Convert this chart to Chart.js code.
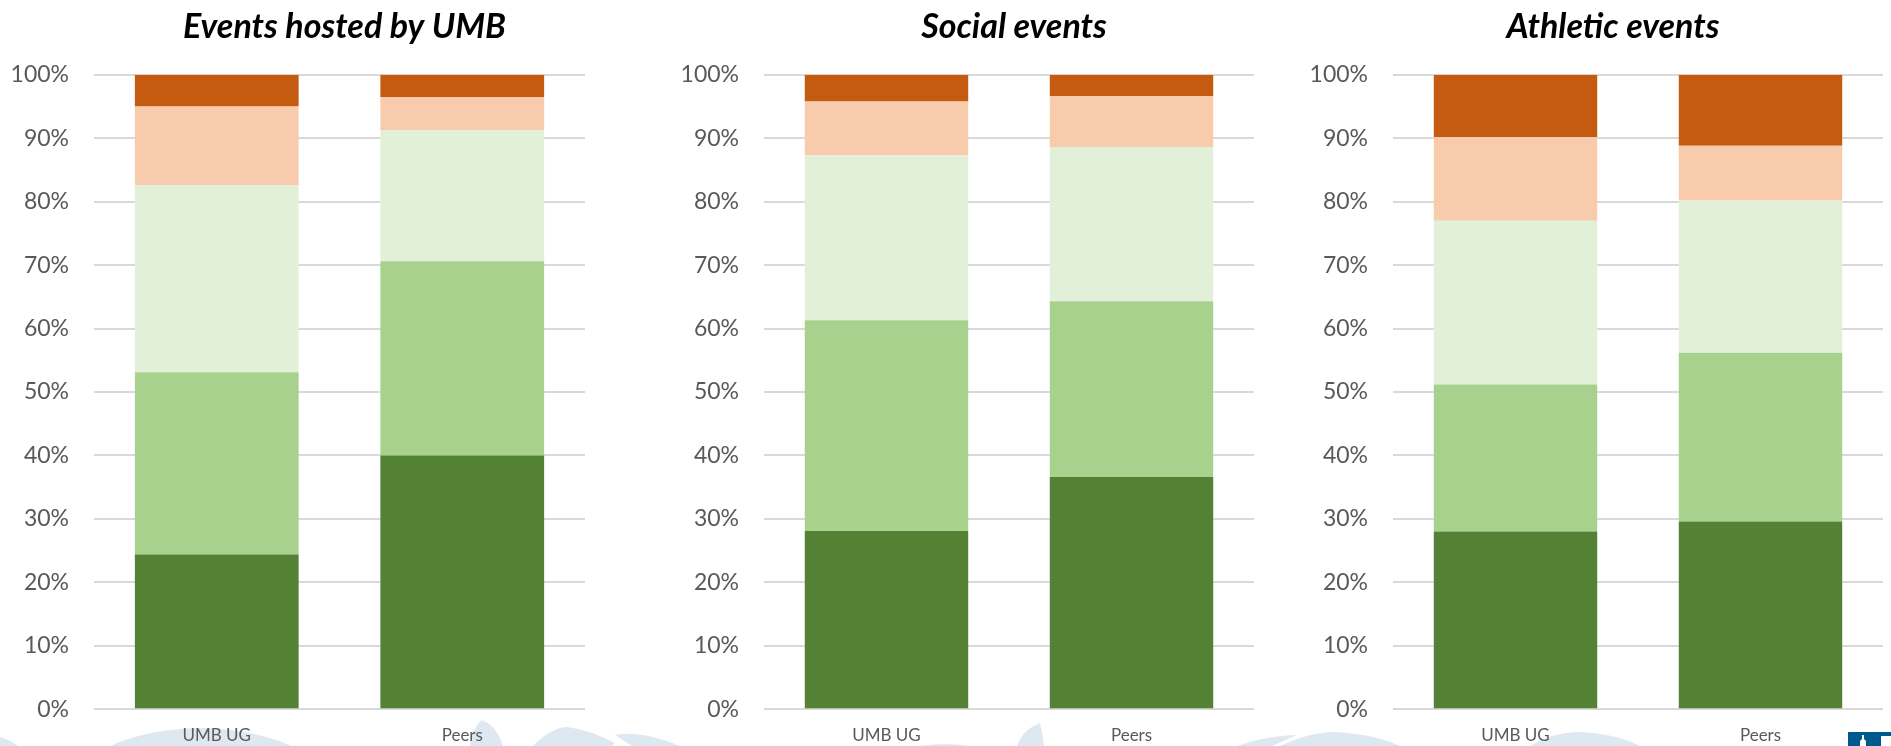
<!DOCTYPE html>
<html>
<head>
<meta charset="utf-8">
<title>Events</title>
<script src="https://cdn.jsdelivr.net/npm/chart.js@4"></script>
<style>
  html, body { margin: 0; padding: 0; background: #fff; overflow: hidden; }
  #page { position: relative; width: 1891px; height: 746px; overflow: hidden; }
  #page canvas { position: absolute; top: 0; }
  #backdrop { position: absolute; left: 0; top: 0; }
</style>
</head>
<body>
<div id="page">
  <svg id="backdrop" width="1891" height="746">
    <g fill="#dfe8f0">
      <path d="M0 737 Q10 740 18 746 L0 746 Z"/>
      <path d="M110 746 Q150 728 205 728 Q255 730 292 746 Z"/>
      <path d="M470 746 Q472 728 482 720 Q497 726 503 746 Z"/>
      <path d="M533 746 Q550 728 567 727 Q590 730 615 743 L612 746 Z"/>
      <path d="M615 735 Q640 730 680 746 L632 746 Z"/>
      <path d="M920 746 Q945 742 970 746 Z"/>
      <path d="M1017 746 Q1022 730 1040 723 Q1043 735 1044 746 Z"/>
      <path d="M1237 746 Q1265 736 1297 735 L1272 746 Z"/>
      <path d="M1280 746 Q1310 732 1335 732 Q1375 734 1400 746 Z"/>
      <path d="M1530 746 Q1550 733 1577 732 Q1615 733 1640 746 Z"/>
    </g>
    <rect x="1848" y="732" width="43" height="14" fill="#00598c"/>
    <path d="M1860 746 L1860 741 L1862 739 L1862 735 L1864 735 L1864 739 L1866 741 L1866 746 Z" fill="#fff"/>
    <rect x="1881" y="736" width="10" height="10" fill="#fff"/>
  </svg>
  <canvas id="hosted" style="left:0"></canvas>
  <canvas id="social" style="left:600px"></canvas>
  <canvas id="athletic" style="left:1290px"></canvas>
</div>
<script>
const categories = ['UMB UG', 'Peers'];
const shadeColors = ['#548235', '#A9D18E', '#E2F0D9', '#F8CBAD', '#C55A11'];

// segment sizes in percent, bottom to top, [UMB UG, Peers]
const hostedBand1 = [24.4, 40.0];
const hostedBand2 = [28.7, 30.6];
const hostedBand3 = [29.5, 20.7];
const hostedBand4 = [12.4, 5.2];
const hostedBand5 = [5.0, 3.5];

const socialBand1 = [28.1, 36.6];
const socialBand2 = [33.2, 27.7];
const socialBand3 = [26.0, 24.3];
const socialBand4 = [8.5, 8.0];
const socialBand5 = [4.2, 3.4];

const athleticBand1 = [28.0, 29.6];
const athleticBand2 = [23.2, 26.6];
const athleticBand3 = [25.8, 24.0];
const athleticBand4 = [13.2, 8.6];
const athleticBand5 = [9.8, 11.2];

// title sits a little off the plot centre in the original
const shiftTitle = {
    id: 'shiftTitle',
    afterLayout: function(chart, args, opts) {
        chart.titleBlock.left += opts.dx;
        chart.titleBlock.right += opts.dx;
    }
};

function drawPanel(id, title, bands, geom) {
    const canvas = document.getElementById(id);
    // two px taller than the page, the plot floor has to land on y=708
    canvas.width = geom.width;
    canvas.height = 748;
    canvas.style.width = geom.width + 'px';
    canvas.style.height = '748px';

    new Chart(canvas.getContext('2d'), {
        type: 'bar',
        plugins: [shiftTitle],
        data: {
            labels: categories,
            datasets: bands.map((band, i) => ({
                data: band,
                backgroundColor: shadeColors[i],
                barPercentage: 0.667,
                categoryPercentage: 1
            }))
        },
        options: {
            responsive: false,
            animation: false,
            layout: { padding: { left: 0, right: geom.right, top: 0, bottom: 0 } },
            plugins: {
                legend: { display: false },
                tooltip: { enabled: false },
                shiftTitle: { dx: geom.titleDx },
                title: {
                    display: true,
                    text: title,
                    fullSize: false,
                    color: '#000',
                    font: { family: 'Lato', size: 34, weight: 'bold', style: 'italic', lineHeight: 1.2 },
                    padding: { top: 7, bottom: 27 }
                }
            },
            scales: {
                x: {
                    stacked: true,
                    grid: { display: false },
                    border: { display: false },
                    ticks: { color: '#595959', font: { family: 'Lato', size: 17 }, padding: 8, maxRotation: 0 },
                    afterFit: function(scale) { scale.height = 34; }
                },
                y: {
                    stacked: true,
                    min: 0,
                    max: 100,
                    grid: { color: '#d9d9d9', lineWidth: 2, drawTicks: false },
                    border: { display: false },
                    ticks: {
                        stepSize: 10,
                        color: '#595959',
                        font: { family: 'Lato', size: 23 },
                        padding: 25,
                        callback: function(value) { return value + '%'; }
                    },
                    afterFit: function(scale) { scale.width = geom.axis; }
                }
            }
        }
    });
}

drawPanel('hosted', 'Events hosted by UMB',
    [hostedBand1, hostedBand2, hostedBand3, hostedBand4, hostedBand5],
    { width: 600, right: 15, axis: 94, titleDx: 5 });
drawPanel('social', 'Social events',
    [socialBand1, socialBand2, socialBand3, socialBand4, socialBand5],
    { width: 670, right: 16, axis: 164, titleDx: 5 });
drawPanel('athletic', 'Athletic events',
    [athleticBand1, athleticBand2, athleticBand3, athleticBand4, athleticBand5],
    { width: 601, right: 8, axis: 103, titleDx: -25 });
</script>
</body>
</html>
